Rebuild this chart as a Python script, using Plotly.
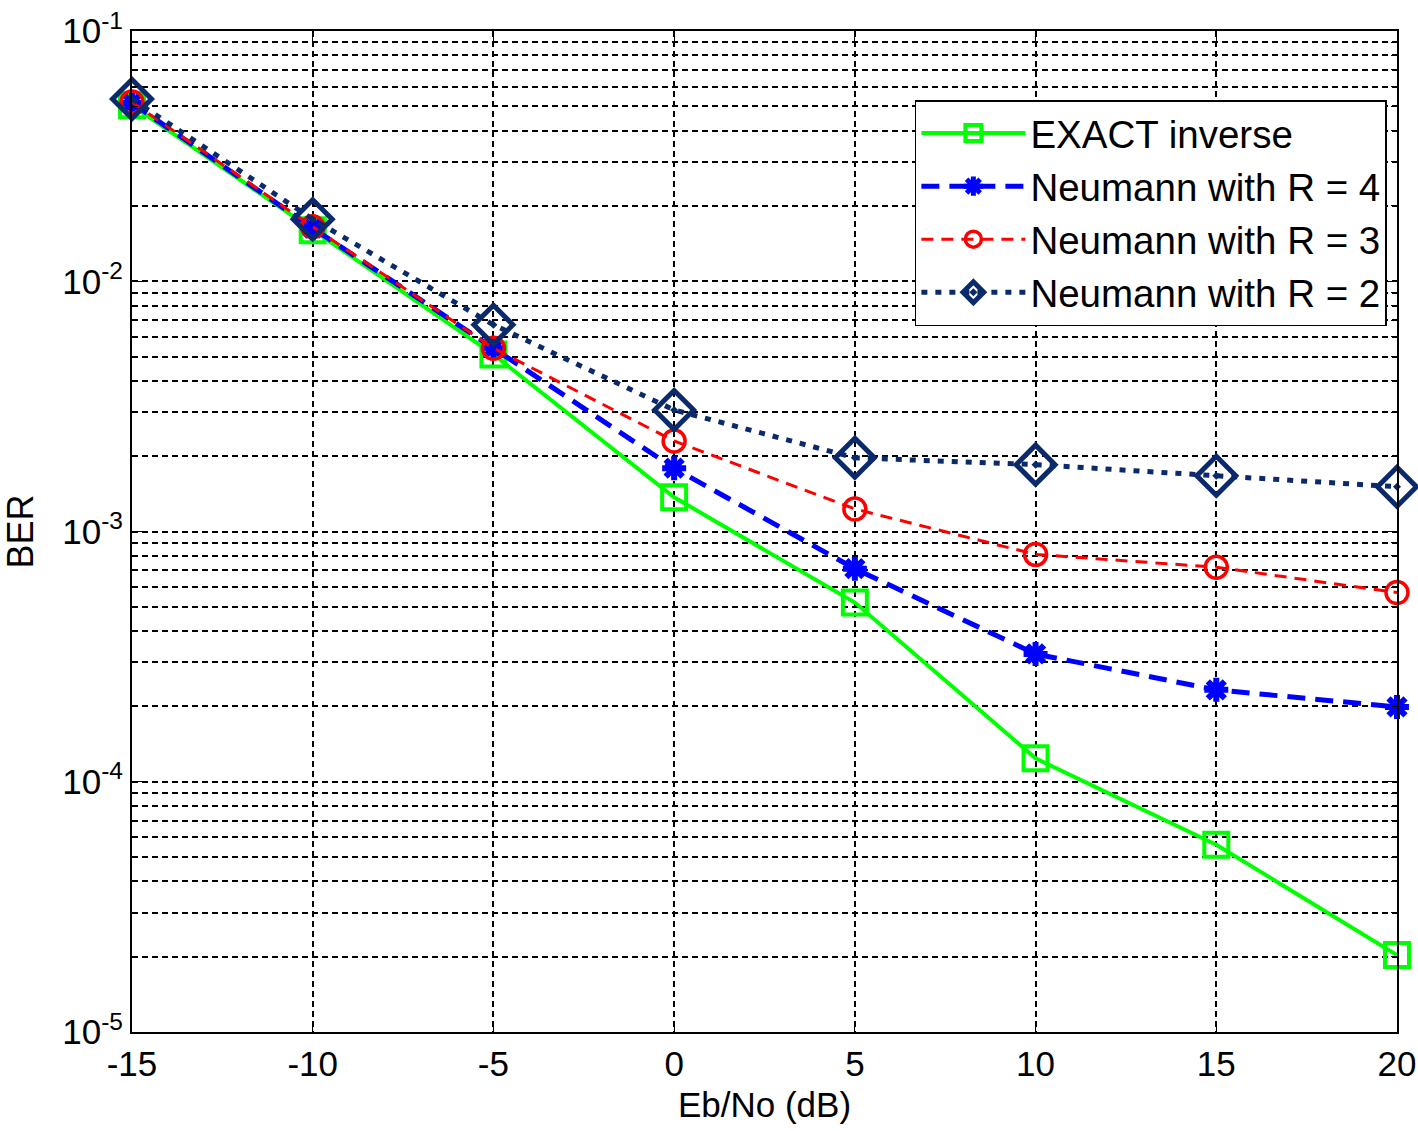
import plotly.graph_objects as go

ebno = [-15, -10, -5, 0, 5, 10, 15, 20]
ber_exact = [0.0505, 0.0160, 0.0051, 0.00137, 5.2e-4, 1.24e-4, 5.6e-5, 2.03e-5]
ber_r4 = [0.0516, 0.0163, 0.0054, 0.00179, 7.1e-4, 3.24e-4, 2.33e-4, 1.99e-4]
ber_r3 = [0.0520, 0.0165, 0.0054, 0.00230, 1.23e-3, 8.1e-4, 7.2e-4, 5.7e-4]
ber_r2 = [0.0535, 0.0177, 0.0067, 0.00306, 1.97e-3, 1.85e-3, 1.67e-3, 1.51e-3]

x_ticks = [-15, -10, -5, 0, 5, 10, 15, 20]
x_ticktext = ["-15", "-10", "-5", "0", "5", "10", "15", "20"]
y_ticks = [1e-5, 1e-4, 1e-3, 1e-2, 1e-1]
y_ticktext = ["10<sup>-5</sup>", "10<sup>-4</sup>", "10<sup>-3</sup>", "10<sup>-2</sup>", "10<sup>-1</sup>"]
y_minor = [m * 10.0 ** e for e in range(-5, -1) for m in range(2, 10)]

navy = "#0b2a6b"
fig = go.Figure()
fig.add_trace(go.Scatter(x=ebno, y=ber_exact, name="EXACT inverse", mode="lines+markers",
                         cliponaxis=False,
                         line=dict(color="#00ff00", width=4),
                         marker=dict(symbol="square-open", size=24, color="#00ff00", line=dict(width=4))))
fig.add_trace(go.Scatter(x=ebno, y=ber_r4, name="Neumann with R = 4", mode="lines+markers",
                         cliponaxis=False,
                         line=dict(color="#0000ff", width=5, dash="18px,10px"),
                         marker=dict(symbol="asterisk-open", size=20, color="#0000ff", line=dict(width=6, color="#0000ff"))))
fig.add_trace(go.Scatter(x=ebno, y=ber_r3, name="Neumann with R = 3", mode="lines+markers",
                         cliponaxis=False,
                         line=dict(color="#ff0000", width=3, dash="12px,8px"),
                         marker=dict(symbol="circle-open", size=22, color="#ff0000", line=dict(width=3.5))))
fig.add_trace(go.Scatter(x=ebno, y=ber_r2, name="Neumann with R = 2", mode="lines+markers",
                         cliponaxis=False,
                         line=dict(color=navy, width=5, dash="6px,8px"),
                         marker=dict(symbol="diamond-open-dot", size=30, color=navy, line=dict(width=5))))

font = "Liberation Sans, Arial, sans-serif"
fig.update_layout(
    width=1418, height=1131,
    margin=dict(l=132, r=21, t=31, b=99),
    paper_bgcolor="white", plot_bgcolor="white",
    font=dict(family=font, size=34, color="black"),
    showlegend=True,
    legend=dict(x=0.992, y=0.931, xanchor="right", yanchor="top",
                bordercolor="black", borderwidth=1.5, bgcolor="white",
                font=dict(size=38.5, family=font), tracegroupgap=0, itemwidth=104),
    xaxis=dict(range=[-15, 20], tickvals=x_ticks, ticktext=x_ticktext, ticks="inside", ticklen=10, tickcolor="black",
               showline=True, linecolor="black", linewidth=2, mirror="ticks",
               showgrid=True, gridcolor="black", griddash="6px,4px", gridwidth=1.5,
               zeroline=False, automargin=False, ticklabeloverflow="allow",
               title=dict(text="Eb/No (dB)", font=dict(size=35), standoff=10),
               tickfont=dict(size=35)),
    yaxis=dict(type="log", range=[-5, -1], tickvals=y_ticks, ticktext=y_ticktext,
               ticks="inside", ticklen=10, tickcolor="black",
               showline=True, linecolor="black", linewidth=2, mirror="ticks",
               showgrid=True, gridcolor="black", griddash="6px,4px", gridwidth=1.5,
               zeroline=False, automargin=False, ticklabeloverflow="allow",
               minor=dict(tickvals=y_minor, showgrid=True, gridcolor="black", griddash="6px,4px",
                          gridwidth=1.5, ticks="inside", ticklen=6, tickcolor="black"),
               title=dict(text="BER", font=dict(size=36), standoff=30),
               tickfont=dict(size=35)),
)
fig.write_html("out.html", config={"displayModeBar": False},
               post_script="document.body.style.margin='0';document.body.style.overflow='hidden';")
